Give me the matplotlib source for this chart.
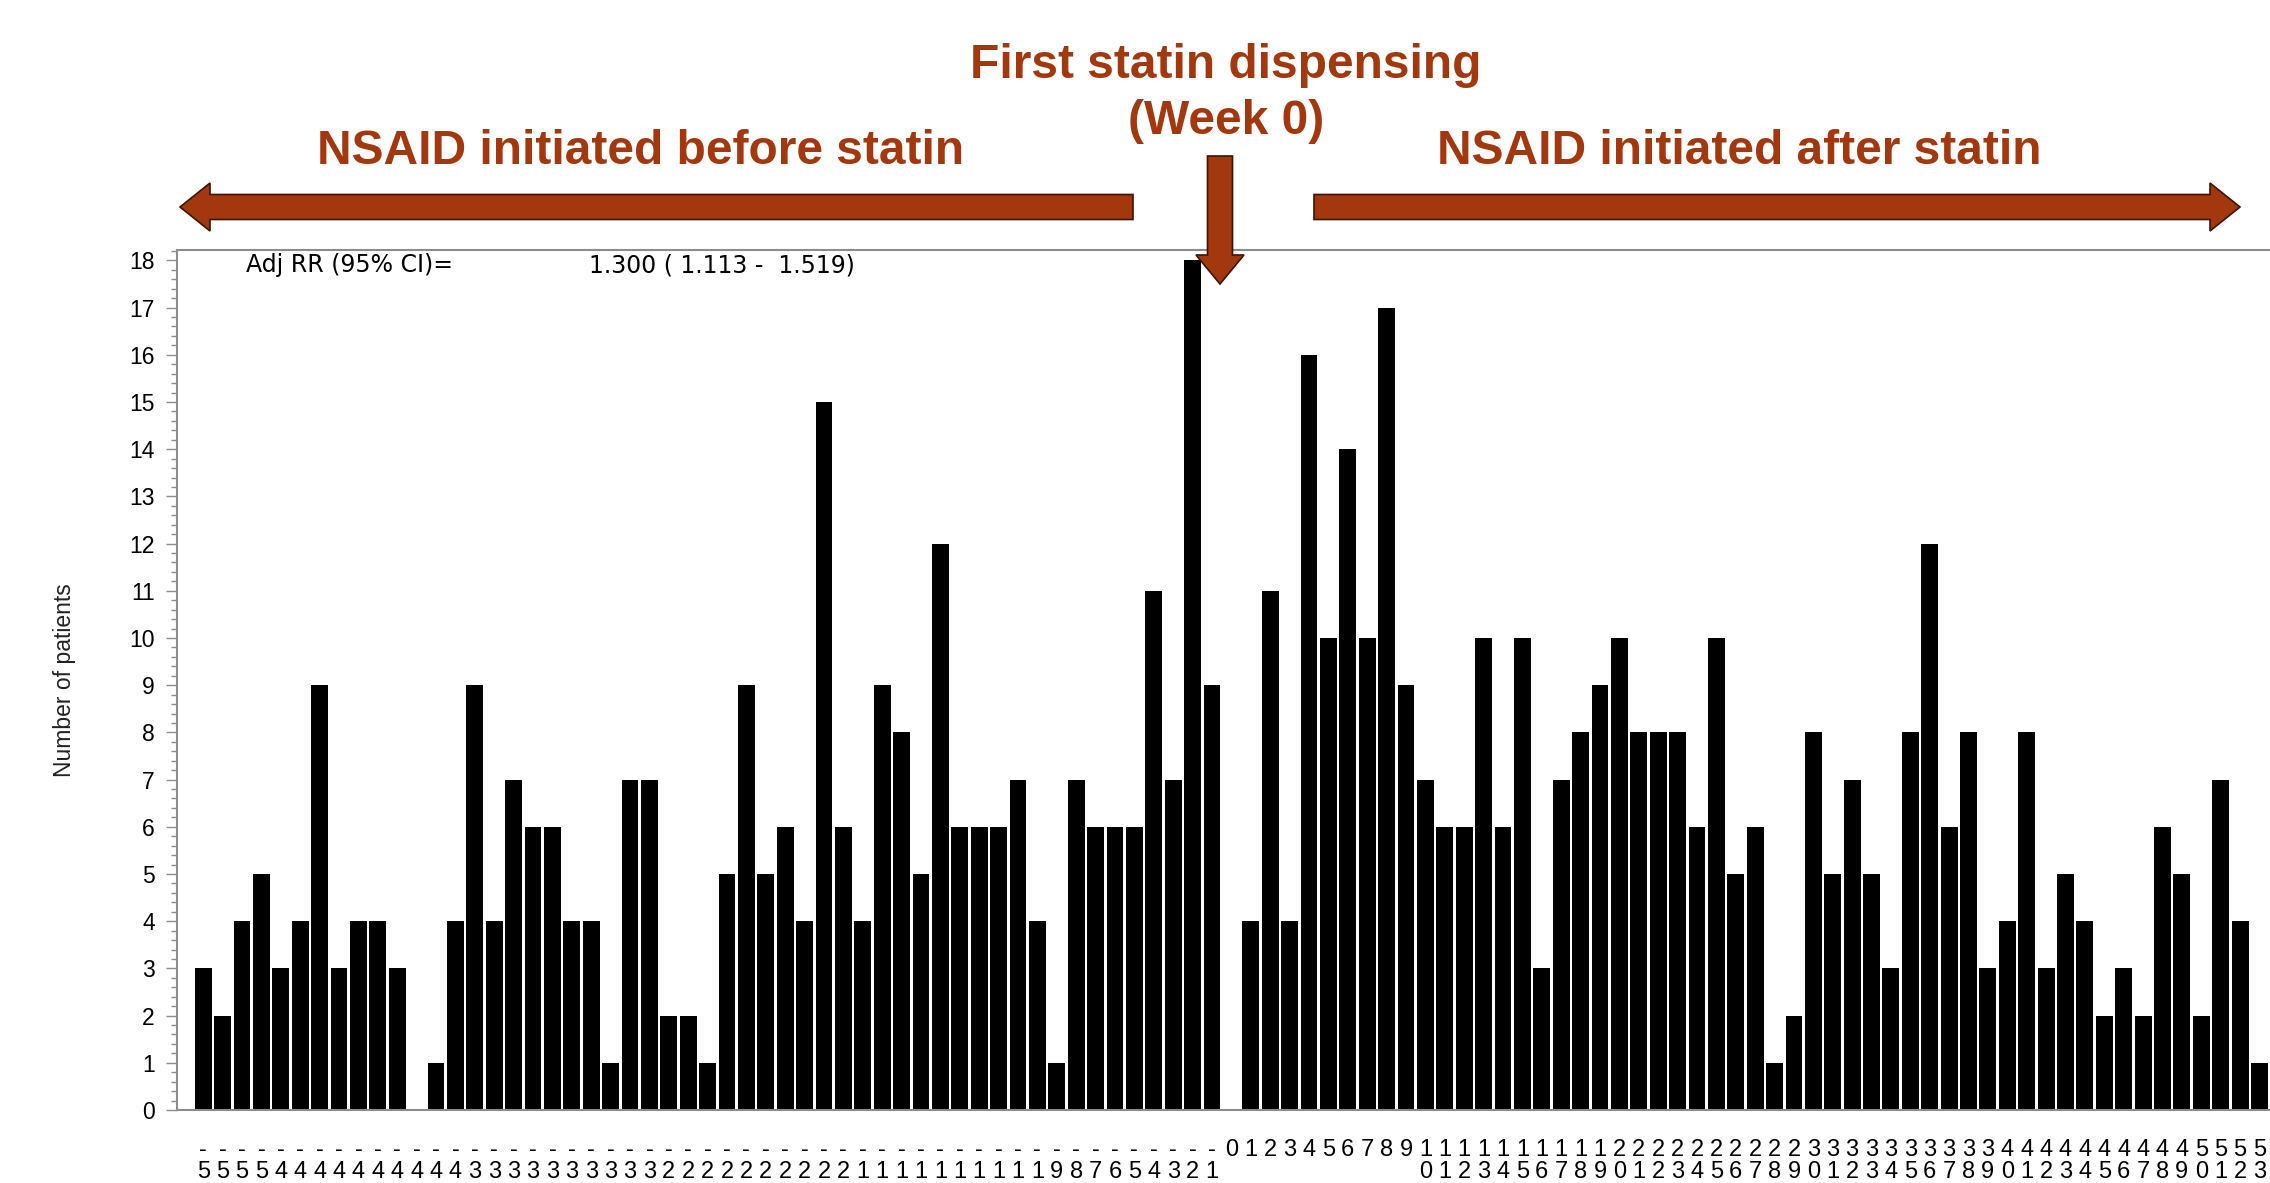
import numpy as np
import matplotlib
matplotlib.use("Agg")
import matplotlib.pyplot as plt
from matplotlib.patches import FancyArrow
from matplotlib.ticker import MultipleLocator

# weekly counts, weeks -53..-1 and 0..53
weeks_before = list(range(-53, 0))
counts_before = [3, 2, 4, 5, 3, 4, 9, 3, 4, 4, 3, 0, 1, 4, 9, 4, 7, 6, 6, 4, 4, 1,
                 7, 7, 2, 2, 1, 5, 9, 5, 6, 4, 15, 6, 4, 9, 8, 5, 12, 6, 6, 6,
                 7, 4, 1, 7, 6, 6, 6, 11, 7, 18, 9]
weeks_after = list(range(0, 54))
counts_after = [0, 4, 11, 4, 16, 10, 14, 10, 17, 9,
                7, 6, 6, 10, 6, 10, 3, 7, 8, 9,
                10, 8, 8, 8, 6, 10, 5, 6, 1, 2,
                8, 5, 7, 5, 3, 8, 12, 6, 8, 3,
                4, 8, 3, 5, 4, 2, 3, 2, 6, 5,
                2, 7, 4, 1]
rr_label = "Adj RR (95% CI)="
rr_value = "1.300 ( 1.113 -  1.519)"

BROWN = "#A3380E"
W, H = 2270, 1183

plt.rcParams['font.family'] = ['Liberation Sans', 'DejaVu Sans']

fig = plt.figure(figsize=(W / 100, H / 100), dpi=100)
ax = fig.add_axes([177 / W, (H - 1110) / H, (W - 177) / W, 860 / H])

weeks = weeks_before + weeks_after
counts = counts_before + counts_after
ax.bar(weeks, counts, width=0.87, color="black", linewidth=0)

ax.set_xlim(-54.35, 53.54)
ax.set_ylim(0, 18.22)


def stacked(w):
    # SAS prints the label one character per row; only two rows fit on the page
    return "\n".join(str(w)[:2])


ax.set_xticks(weeks)
ax.set_xticklabels([stacked(w) for w in weeks], fontsize=17)
for lab in ax.get_xticklabels():
    lab.set_linespacing(1.0)
ax.tick_params(axis="x", length=0, pad=21)

ax.yaxis.set_major_locator(MultipleLocator(1))
ax.yaxis.set_minor_locator(MultipleLocator(0.2))
ax.tick_params(axis="y", which="major", length=8, width=1, color="#8c8c8c",
               labelsize=16.5, pad=8)
ax.tick_params(axis="y", which="minor", length=4, width=1, color="#8c8c8c")

for s in ["left", "top", "bottom"]:
    ax.spines[s].set_color("#8c8c8c")
    ax.spines[s].set_linewidth(1.5)
ax.spines["right"].set_visible(False)

ax.text((246 - 177) / 2093, (1110 - 265) / 860, rr_label, transform=ax.transAxes,
        fontsize=17, va="center", ha="left", family="DejaVu Sans")
ax.text((589 - 177) / 2093, (1110 - 265) / 860, rr_value, transform=ax.transAxes,
        fontsize=17, va="center", ha="left", family="DejaVu Sans")

fig.text(65 / W, 1 - 680 / H, "Number of patients", rotation=90, fontsize=16.5,
         ha="center", va="center", color="#222222")

# headings
fig.text(1226 / W, 1 - 66 / H, "First statin dispensing", color=BROWN,
         fontsize=34.5, fontweight="bold", ha="center", va="center")
fig.text(1226 / W, 1 - 122 / H, "(Week 0)", color=BROWN,
         fontsize=34.5, fontweight="bold", ha="center", va="center")
fig.text(641 / W, 1 - 152 / H, "NSAID initiated before statin", color=BROWN,
         fontsize=34.5, fontweight="bold", ha="center", va="center")
fig.text(1739 / W, 1 - 152 / H, "NSAID initiated after statin", color=BROWN,
         fontsize=34.5, fontweight="bold", ha="center", va="center")


def px_arrow(x0, y0, x1, y1, shaft, head_w, head_l):
    # pixel coords (y from top) -> inches
    a = FancyArrow(x0 / 100, (H - y0) / 100, (x1 - x0) / 100, (y0 - y1) / 100,
                   width=shaft / 100, head_width=head_w / 100, head_length=head_l / 100,
                   length_includes_head=True, transform=fig.dpi_scale_trans,
                   facecolor=BROWN, edgecolor="#3b1606", linewidth=1.2)
    fig.add_artist(a)


px_arrow(1133, 207, 180, 207, 25, 48, 30)
px_arrow(1314, 207, 2240, 207, 25, 48, 30)
px_arrow(1220, 156, 1220, 284, 25, 48, 29)

fig.savefig("out.png", dpi=100)
